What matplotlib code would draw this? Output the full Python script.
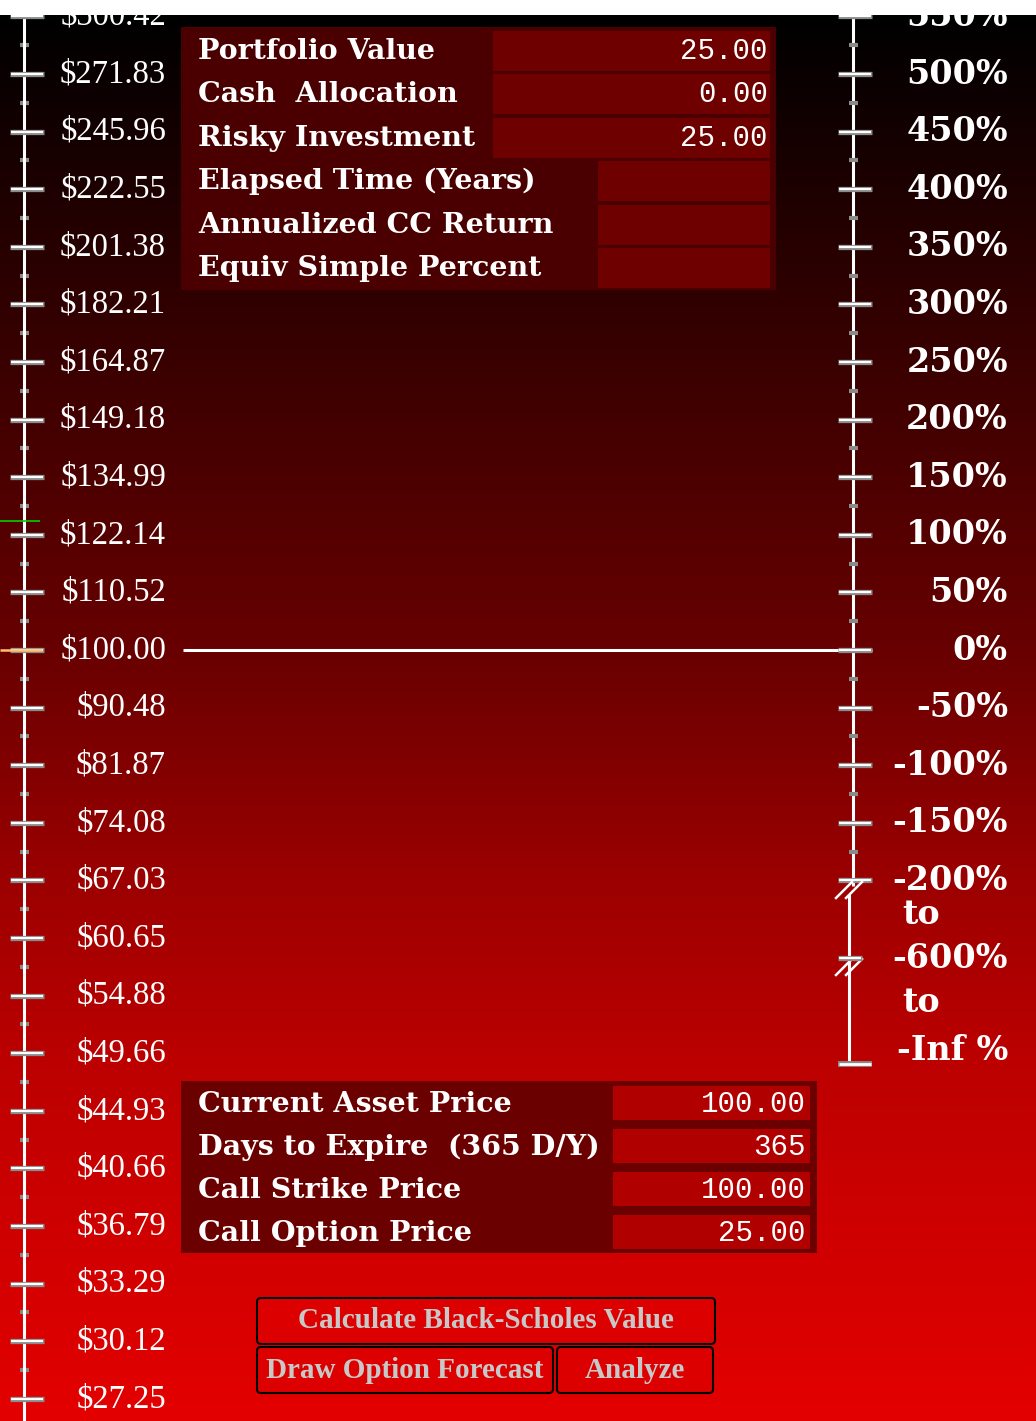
import numpy as np
import matplotlib.pyplot as plt
from matplotlib.patches import Rectangle, FancyBboxPatch

W, H = 1036, 1421
TOP = 15            # white strip at the top of the screenshot
Y100 = 650          # pixel row of the $100 / 0% line
PX_PER_LN = 576     # pixels per unit of ln(price)

# ---- data ----
spot = 100.0
breakeven = 125.0
price_ticks = [300.42, 271.83, 245.96, 222.55, 201.38, 182.21, 164.87, 149.18,
               134.99, 122.14, 110.52, 100.00, 90.48, 81.87, 74.08, 67.03,
               60.65, 54.88, 49.66, 44.93, 40.66, 36.79, 33.29, 30.12, 27.25]
pct_ticks = [550, 500, 450, 400, 350, 300, 250, 200, 150, 100, 50, 0,
             -50, -100, -150, -200]
break_labels = ['-600%', '-Inf %']

top_labels = ['Portfolio Value', 'Cash  Allocation', 'Risky Investment',
              'Elapsed Time (Years)', 'Annualized CC Return', 'Equiv Simple Percent']
top_values = ['25.00', '0.00', '25.00', '', '', '']
input_labels = ['Current Asset Price', 'Days to Expire  (365 D/Y)',
                'Call Strike Price', 'Call Option Price']
input_values = ['100.00', '365', '100.00', '25.00']
buttons = ['Calculate Black-Scholes Value', 'Draw Option Forecast', 'Analyze']

# ---- calibration (pixel layout) ----
p_top = spot * np.exp((Y100 - TOP) / PX_PER_LN)
p_bot = spot * np.exp(-(H - Y100) / PX_PER_LN)
pct_top = 500 * np.log(p_top / spot)
pct_bot = 500 * np.log(p_bot / spot)


def pct_at(px):
    return 500 * (Y100 - px) / PX_PER_LN


fig = plt.figure(figsize=(W / 100, H / 100), dpi=100, facecolor='white')
rect = [0, 0, 1, (H - TOP) / H]

# background gradient black -> red
bg = fig.add_axes(rect)
rows = np.arange(TOP, H)
red = np.interp(rows, [15, 300, 650, 880, 1060, 1421],
                [0, 48, 104, 156, 188, 228]) / 255.0
img = np.zeros((len(rows), 1, 3))
img[:, 0, 0] = red
bg.imshow(img, aspect='auto', extent=[0, W, 0, 1], interpolation='bilinear')
bg.axis('off')

# left price scale (log)
ax = fig.add_axes(rect)
ax.patch.set_alpha(0)
ax.set_xlim(0, W)
ax.set_yscale('log')
ax.set_ylim(p_bot, p_top)
ax.axis('off')

ax.vlines(24, p_bot, p_top, color='white', lw=2.2, zorder=3)
minors = np.sqrt(np.array(price_ticks[:-1]) * np.array(price_ticks[1:]))
minors = np.append(minors, [price_ticks[-1] ** 2 / minors[-1]])
ax.hlines(minors, 20, 29, color='#8a8a8a', lw=3.0, zorder=2)
ax.hlines(price_ticks, 10, 44, color='#8a8a8a', lw=3.8, zorder=4)
ax.hlines(price_ticks, 11, 43, color='white', lw=1.6, zorder=5)
for p in price_ticks:
    ax.text(166, p, '$%.2f' % p, ha='right', va='center', color='white',
            fontsize=23.5, family='Liberation Serif', zorder=6)
ax.hlines(breakeven, 0, 40, color='#00d000', lw=1.2, zorder=6)
ax.hlines(spot, 0, 42, color='#ffc070', lw=1.8, zorder=6)
ax.hlines(spot, 183, 872, color='white', lw=2.2, zorder=6)

# right percent scale (linear)
axr = ax.twinx()
axr.set_ylim(pct_bot, pct_top)
axr.axis('off')
pf = dict(ha='right', va='center', color='white', fontsize=24,
          family='DejaVu Serif', weight='bold')
axr.vlines(853, pct_at(886), pct_top, color='white', lw=2.2)
axr.vlines(849, pct_at(1064), pct_at(894), color='white', lw=2.2)
pm = np.array(pct_ticks[1:]) + 25
axr.hlines(np.append(pm, pct_ticks[0] + 25), 849, 858, color='#8a8a8a', lw=3.0)
axr.hlines(pct_ticks, 838, 872, color='#8a8a8a', lw=3.8)
axr.hlines(pct_ticks, 839, 871, color='white', lw=1.6)
for v in pct_ticks:
    axr.text(1008, v, '%d%%' % v, **pf)
# broken part of the scale
for y0 in (889, 966):
    for dx in (0, 10):
        axr.plot([836 + dx, 852 + dx], [pct_at(y0 + 9), pct_at(y0 - 7)],
                 color='white', lw=1.8)
axr.hlines(pct_at(958), 838, 862, color='#8a8a8a', lw=3.8)
axr.hlines(pct_at(958), 839, 861, color='white', lw=1.6)
axr.hlines(pct_at(1064), 838, 872, color='#8a8a8a', lw=4.2)
axr.hlines(pct_at(1064), 839, 871, color='white', lw=2.0)
axr.text(1008, pct_at(958), break_labels[0], **pf)
axr.text(1008, pct_at(1050), break_labels[1], **pf)
for y in (915, 1002):
    axr.text(921, pct_at(y), 'to', ha='center', va='center', color='white',
             fontsize=24, family='DejaVu Serif', weight='bold')

# overlay panels (pixel coordinates)
ov = fig.add_axes([0, 0, 1, 1])
ov.patch.set_alpha(0)
ov.set_xlim(0, W)
ov.set_ylim(H, 0)
ov.axis('off')

lab = dict(color='white', fontsize=20.5, family='DejaVu Serif',
           weight='bold', va='center', ha='left')
val = dict(color='white', fontsize=21, family='Liberation Mono',
           va='center', ha='right')

ov.add_patch(Rectangle((181, 27), 595, 263, fc='#4a0000', ec='none'))
box_x = [493, 493, 493, 598, 598, 598]
for i, (t, v) in enumerate(zip(top_labels, top_values)):
    y0 = 31 + i * 43.4
    ov.add_patch(Rectangle((box_x[i], y0), 770 - box_x[i], 40,
                           fc='#6e0000', ec='none'))
    ov.text(198, y0 + 20.5, t, **lab)
    ov.text(768, y0 + 20, v, **val)

ov.add_patch(Rectangle((181, 1081), 636, 172, fc='#6a0000', ec='none'))
for i, (t, v) in enumerate(zip(input_labels, input_values)):
    y0 = 1086 + i * 43
    ov.add_patch(Rectangle((613, y0), 197, 34, fc='#b00000', ec='none'))
    ov.text(198, y0 + 18.5, t, **lab)
    ov.text(806, y0 + 18, v, **val)

btn_boxes = [(257, 1298, 458, 46), (257, 1347, 296, 46), (557, 1347, 156, 46)]
for (x0, y0, w, h), t in zip(btn_boxes, buttons):
    ov.add_patch(FancyBboxPatch((x0 + 4, y0 + 4), w - 8, h - 8,
                                boxstyle='round,pad=4', fc='#dd0000',
                                ec='black', lw=1.5))
    ov.text(x0 + w / 2, y0 + h / 2, t, ha='center', va='center',
            color='#c8c8c8', fontsize=21, family='Liberation Serif',
            weight='bold')

fig.savefig('out.png', dpi=100, facecolor='white')
